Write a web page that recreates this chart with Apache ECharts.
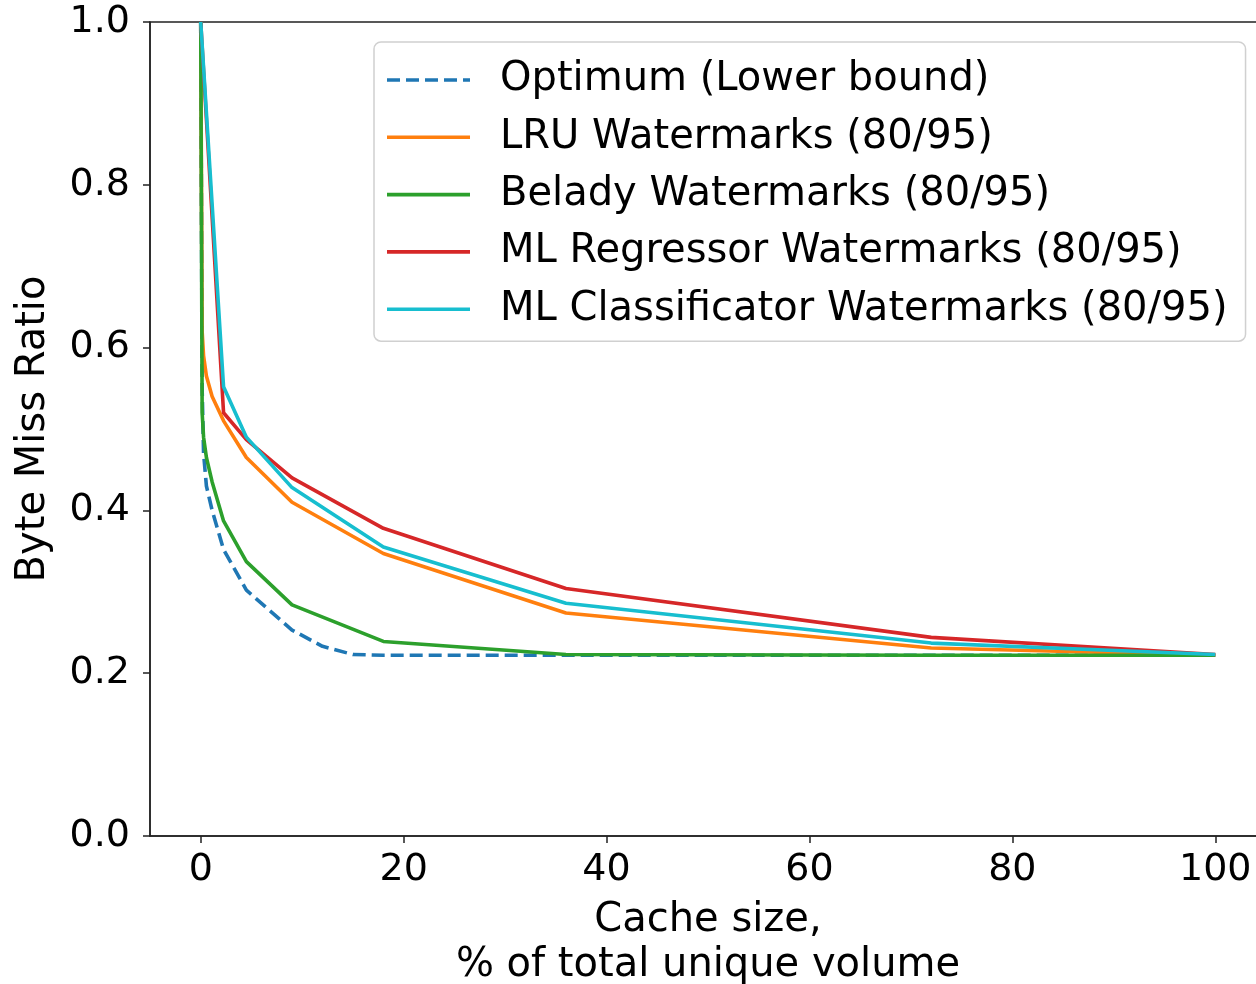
<!DOCTYPE html>
<html>
<head>
<meta charset="utf-8">
<script src="https://cdn.jsdelivr.net/npm/echarts@6.0.0/dist/echarts.min.js"></script>
<style>
  html, body { margin: 0; padding: 0; background: #fff; }
  #chart { width: 1256px; height: 984px; }
</style>
</head>
<body>
<div id="chart"></div>
<script>
// ---- Data ----
const seriesNames = [
  'Optimum (Lower bound)',
  'LRU Watermarks (80/95)',
  'Belady Watermarks (80/95)',
  'ML Regressor Watermarks (80/95)',
  'ML Classificator Watermarks (80/95)'
];

const xOptimum = [0, 0.14, 0.28, 0.56, 1.125, 2.25, 4.5, 9, 12, 15, 18, 36, 72, 100];
const yOptimum = [1.0, 0.55, 0.47, 0.43, 0.40, 0.352, 0.302, 0.253, 0.233, 0.223, 0.222, 0.222, 0.222, 0.222];

const xLRU = [0, 0.14, 0.28, 0.56, 1.125, 2.25, 4.5, 9, 18, 36, 72, 100];
const yLRU = [1.0, 0.62, 0.59, 0.565, 0.54, 0.51, 0.465, 0.41, 0.347, 0.274, 0.231, 0.222];

const xBelady = [0, 0.14, 0.28, 0.56, 1.125, 2.25, 4.5, 9, 18, 36, 72, 100];
const yBelady = [1.0, 0.52, 0.49, 0.465, 0.435, 0.387, 0.337, 0.284, 0.239, 0.223, 0.222, 0.222];

const xRegressor = [0, 2.25, 4.5, 9, 18, 36, 72, 100];
const yRegressor = [1.0, 0.52, 0.487, 0.44, 0.378, 0.304, 0.244, 0.223];

const xClassif = [0, 2.25, 4.5, 9, 18, 36, 72, 100];
const yClassif = [1.0, 0.552, 0.49, 0.428, 0.355, 0.286, 0.237, 0.223];

const xTicks = [0, 20, 40, 60, 80, 100];
const yTicks = [0.0, 0.2, 0.4, 0.6, 0.8, 1.0];

const xAxisName = 'Cache size,\n% of total unique volume';
const yAxisName = 'Byte Miss Ratio';

// ---- Build chart ----
function pairs(xs, ys) { return xs.map((x, i) => [x, ys[i]]); }

const colors = ['#1f77b4', '#ff7f0e', '#2ca02c', '#d62728', '#17becf'];
const FONT = 'DejaVu Sans';
const FS_TICK = 38;
const FS_TEXT = 40;
const LW = 3.6;

const dataSets = [
  pairs(xOptimum, yOptimum),
  pairs(xLRU, yLRU),
  pairs(xBelady, yBelady),
  pairs(xRegressor, yRegressor),
  pairs(xClassif, yClassif)
];

const dashedIcon = 'path://M0,0h13v3.6h-13z M19,0h13v3.6h-13z M38,0h13v3.6h-13z M57,0h13v3.6h-13z M76,0h7v3.6h-7z';
const solidIcon = 'path://M0,0h83v3.6h-83z';

const chart = echarts.init(document.getElementById('chart'), null, { renderer: 'canvas' });

const option = {
  animation: false,
  backgroundColor: '#ffffff',
  textStyle: { fontFamily: FONT },
  grid: {
    left: 150, top: 22, width: 1116, height: 814,
    outerBoundsMode: 'none',
    containLabel: false,
    show: true, borderColor: '#222', borderWidth: 1.5, backgroundColor: 'transparent'
  },
  legend: {
    orient: 'vertical',
    left: 374, top: 42,
    padding: [17, 18, 11, 13],
    itemWidth: 83, itemHeight: 3.6,
    itemGap: 15.3,
    symbolKeepAspect: false,
    backgroundColor: 'rgba(255,255,255,0.85)',
    borderColor: '#d0d0d0', borderWidth: 1.5, borderRadius: 7,
    itemStyle: { borderWidth: 0 },
    textStyle: { fontFamily: FONT, fontSize: FS_TEXT, color: '#000', lineHeight: 42, padding: [0, 0, 0, 25] },
    data: seriesNames.map((n, i) => ({ name: n, icon: i === 0 ? dashedIcon : solidIcon }))
  },
  xAxis: {
    type: 'value', min: -5, max: 105,
    name: xAxisName, nameLocation: 'middle', nameGap: 62,
    nameTextStyle: { fontFamily: FONT, fontSize: FS_TEXT, color: '#000', lineHeight: 45 },
    axisLine: { show: true, onZero: false, lineStyle: { color: '#222', width: 1.5 } },
    axisTick: { show: true, inside: false, length: 7, customValues: xTicks, lineStyle: { color: '#222', width: 1.5 } },
    axisLabel: { show: true, customValues: xTicks, fontFamily: FONT, fontSize: FS_TICK, color: '#000', margin: 15 },
    splitLine: { show: false }
  },
  yAxis: {
    type: 'value', min: 0, max: 1, interval: 0.2,
    name: yAxisName, nameLocation: 'middle', nameGap: 96,
    nameTextStyle: { fontFamily: FONT, fontSize: FS_TEXT, color: '#000' },
    axisLine: { show: true, onZero: false, lineStyle: { color: '#222', width: 1.5 } },
    axisTick: { show: true, inside: false, length: 7, lineStyle: { color: '#222', width: 1.5 } },
    axisLabel: {
      fontFamily: FONT, fontSize: FS_TICK, color: '#000', margin: 20,
      formatter: v => Number(v).toFixed(1)
    },
    splitLine: { show: false }
  },
  series: dataSets.map((d, i) => ({
    name: seriesNames[i],
    type: 'line',
    data: d,
    symbol: 'none',
    showSymbol: false,
    smooth: false,
    clip: true,
    color: colors[i],
    itemStyle: { color: colors[i] },
    lineStyle: {
      color: colors[i],
      width: LW,
      type: i === 0 ? [13, 6] : 'solid',
      cap: 'butt', join: 'round'
    },
    emphasis: { disabled: true },
    z: 2 + i
  }))
};

chart.setOption(option);
</script>
</body>
</html>
